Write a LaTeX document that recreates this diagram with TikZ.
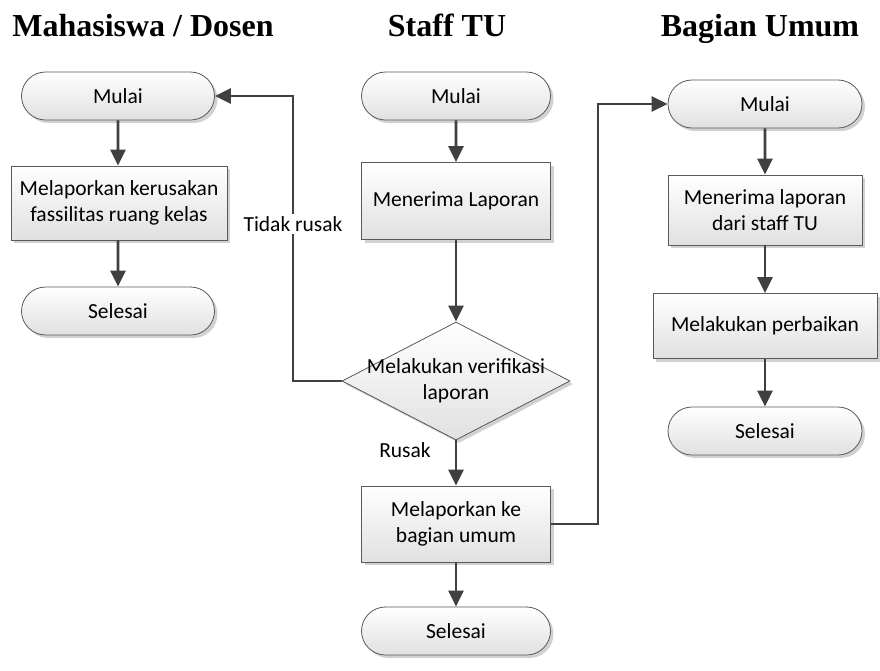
\documentclass[tikz,border=0pt]{standalone}
\usepackage{fontspec}
\setmainfont{Carlito}
\newfontfamily\titlefont{Liberation Serif}
\usetikzlibrary{shapes.geometric,shapes.misc,arrows.meta,shadows}
\definecolor{linegray}{HTML}{404040}
\definecolor{edgegray}{HTML}{595959}
\tikzset{
  base/.style={draw=edgegray, line width=0.8pt, top color=white, bottom color=black!12,
    align=center, font=\fontsize{21.5}{26}\selectfont, inner sep=0pt,
    drop shadow={shadow xshift=3pt, shadow yshift=-3pt, fill=black!18, opacity=1}},
  term/.style={base, rounded rectangle, minimum width=193pt, minimum height=48pt},
  proc/.style={base, rectangle, minimum width=#1, minimum height=74pt},
  proc/.default=189pt,
  decide/.style={base, diamond, minimum width=228pt, minimum height=118pt},
  flow/.style={draw=linegray, line width=2.8pt, -{Triangle[length=16pt,width=15pt]}},
  lbl/.style={font=\fontsize{21.5}{26}\selectfont, inner sep=2pt, align=center},
  title/.style={font=\titlefont\bfseries\fontsize{32}{36}\selectfont, anchor=base}
}
\begin{document}
\begin{tikzpicture}[x=1pt,y=-1pt]
\useasboundingbox (0,0) rectangle (880,670);
\fill[white] (0,0) rectangle (880,670);

% lane headings
\node[title] (t1) at (143,36) {Mahasiswa / Dosen};
\node[title] (t2) at (447,36) {Staff TU};
\node[title] (t3) at (760,36) {Bagian Umum};

% Mahasiswa / Dosen
\node[term] (m1) at (118,96) {Mulai};
\node[proc=216pt] (m2) at (119,203) {Melaporkan kerusakan\\fassilitas ruang kelas};
\node[term] (m3) at (118,311) {Selesai};

% Staff TU
\node[term, minimum width=189pt] (s1) at (456,96) {Mulai};
\node[proc, minimum height=77pt] (s2) at (456,201) {Menerima Laporan};
\node[decide] (s3) at (456,381) {};
\node[lbl] (s3text) at (s3.center) {Melakukan verifikasi\\laporan};
\node[proc, minimum height=76pt] (s4) at (456,524) {Melaporkan ke\\bagian umum};
\node[term, minimum width=189pt] (s5) at (456,631) {Selesai};

% Bagian Umum
\node[term, minimum width=194pt] (b1) at (765,104) {Mulai};
\node[proc=194pt, minimum height=70pt] (b2) at (765,210) {Menerima laporan\\dari staff TU};
\node[proc=224pt, minimum height=65pt] (b3) at (765,326) {Melakukan perbaikan};
\node[term, minimum width=194pt] (b4) at (765,431) {Selesai};

% connectors
\draw[flow] (m1) -- (m1 |- m2.north);
\draw[flow] (m1 |- m2.south) -- (m3);
\draw[flow] (s1) -- (s2);
\draw[flow] (s2) -- (s3);
\draw[flow] (s3) -- (s4);
\node[lbl] (rusak) at (405,450) {Rusak};
\draw[flow] (s4) -- (s5);
\draw[flow] (s3.west) -| (293,224) node[lbl, fill=white] (tidak) {Tidak rusak} |- (m1.east);
\draw[flow] (s4.east) -- (598,524) |- (b1.west);
\draw[flow] (b1) -- (b2);
\draw[flow] (b2) -- (b3);
\draw[flow] (b3) -- (b4);
\end{tikzpicture}
\end{document}
